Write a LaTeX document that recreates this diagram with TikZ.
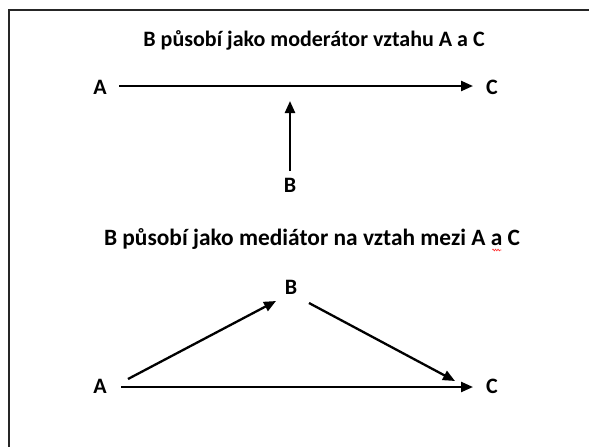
\documentclass[tikz,border=0pt]{standalone}
\usepackage{fontspec}
\setmainfont{Carlito}
\usetikzlibrary{arrows.meta,calc,decorations.pathmorphing}
\newcommand\redsquig{\makebox[0pt][l]{\tikz[overlay,x=1pt,y=1pt]\draw[red!80,line width=0.6pt,decorate,decoration={snake,amplitude=0.9pt,segment length=2.5pt}] (1.5,-5) -- (10.5,-5);}}
\begin{document}
\begin{tikzpicture}[x=1pt,y=-1pt,
  lbl/.style={font=\fontsize{22}{24}\selectfont\bfseries, inner sep=0pt},
  ttl/.style={font=\fontsize{22}{24}\selectfont\bfseries, inner sep=0pt, anchor=base},
  ttlb/.style={font=\fontsize{23.4}{26}\selectfont\bfseries, inner sep=0pt, anchor=base},
  arr/.style={line width=2.3pt, -{Triangle[length=12pt,width=10pt]}},
  frame/.style={line width=2pt, black!85}]
\useasboundingbox (0,0) rectangle (589,447);
\draw[frame] (9,460) -- (9,10) -- (600,10);
% top
\node[ttl] (T1) at (314,46) {B působí jako moderátor vztahu A a C};
\node[lbl] (A1) at (100,87) {A};
\node[lbl] (C1) at (492,87) {C};
\node[lbl] (B1) at (290,185) {B};
\coordinate (M) at (290,101);
\draw[arr] ($(A1)+(19,-1)$) -- ($(C1)+(-19,-1)$);
\draw[arr] ($(B1)+(0,-14)$) -- (M);
% bottom
\node[ttlb] (T2) at (312,245) {B působí jako mediátor na vztah mezi A \redsquig a C};
\node[lbl] (B2) at (291,287) {B};
\node[lbl] (A2) at (100,386) {A};
\node[lbl] (C2) at (492,386) {C};
\draw[arr] ($(A2)+(21,1)$) -- ($(C2)+(-19,1)$);
\draw[arr] ($(A2)+(28,-7)$) -- ($(B2)+(-15,14)$);
\draw[arr] ($(B2)+(18,16)$) -- ($(C2)+(-37,-5)$);
\end{tikzpicture}
\end{document}
